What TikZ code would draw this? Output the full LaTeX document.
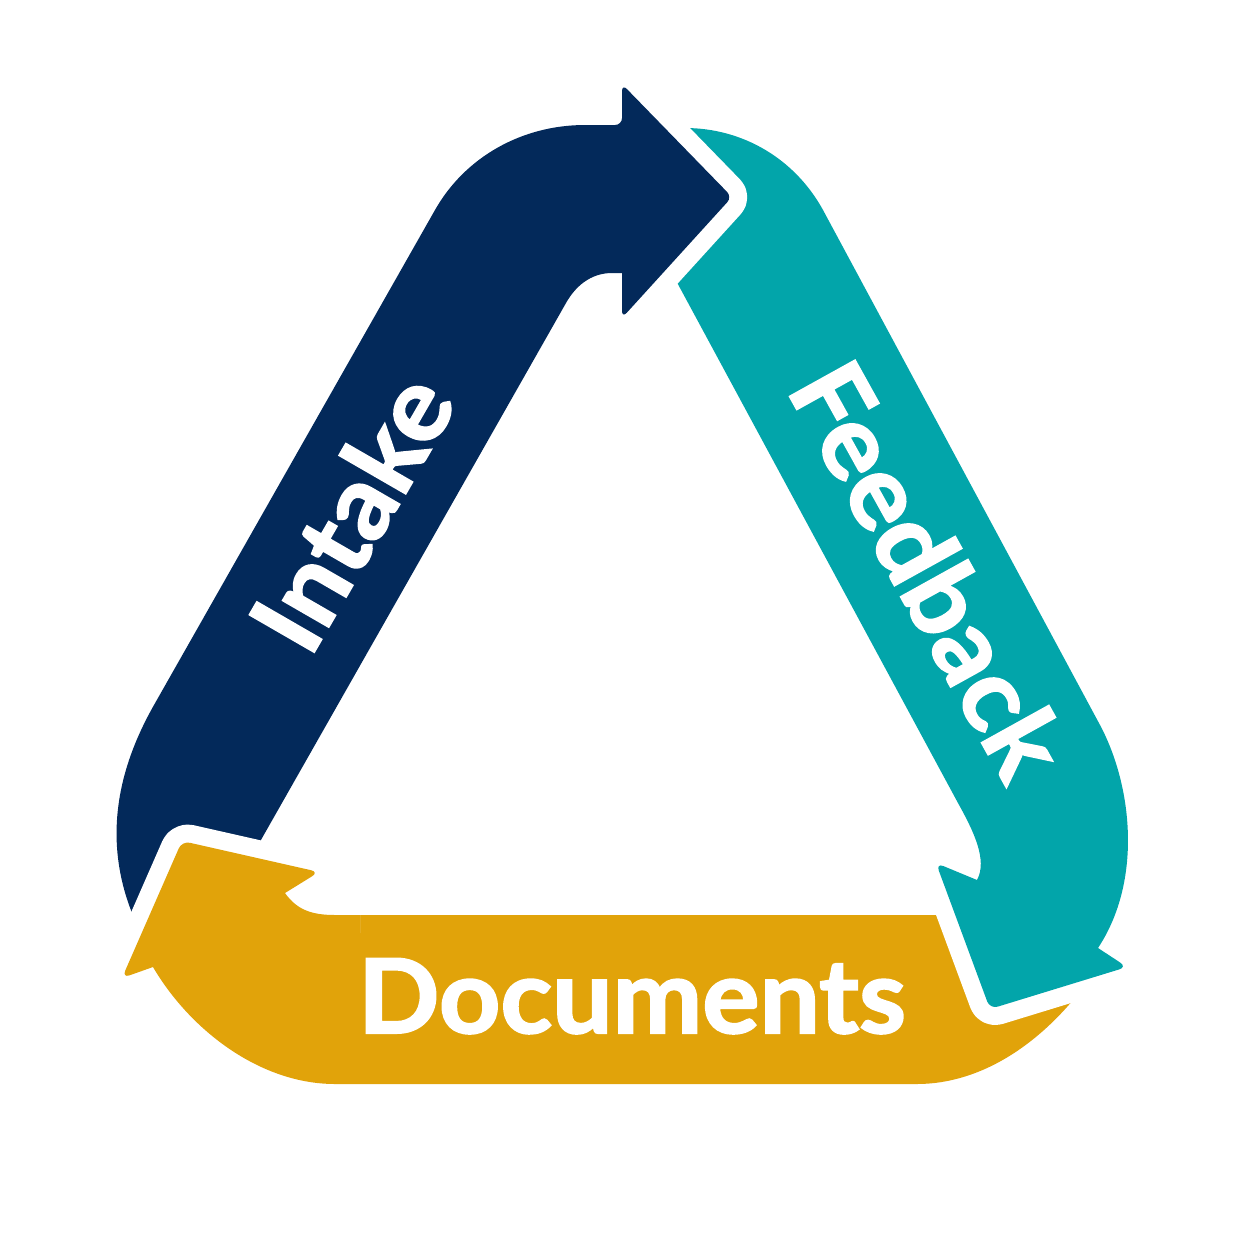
\documentclass[tikz,border=0pt]{standalone}
\usepackage{fontspec}
\newfontfamily\lblfont{Lato}[FakeStretch=1.04, BoldFeatures={FakeBold=2}]
\definecolor{navyc}{HTML}{03295A}
\definecolor{tealc}{HTML}{02A5AA}
\definecolor{goldc}{HTML}{E1A30A}
\tikzset{
  band/.style={preaction={draw=white, line width=36pt, line join=round}},
  lbl/.style={text=white, inner sep=0pt, font=\lblfont\bfseries\fontsize{103}{103}\selectfont}
}
\begin{document}
\begin{tikzpicture}[x=1pt,y=-1pt]
\useasboundingbox (0,0) rectangle (1254,1254);
\fill[white] (0,0) rectangle (1254,1254);
% gold (Documents)
\path[fill=goldc] (335,915) -- (1010,915) -- (1085,985) .. controls (1040,1045) and (980,1084) .. (917,1084) -- (335,1084) .. controls (260,1084) and (190,1030) .. (153,967) [rounded corners=8pt] -- (122,978) -- (182,841) -- (319,872) [sharp corners] -- (285,893) .. controls (297,910) and (312,915) .. (335,915) -- cycle;
% teal (Feedback)
\path[band, fill=tealc] (648,200) -- (668,128) -- (685,128) .. controls (743,128) and (795,159) .. (823,210) -- (1100,725) .. controls (1132,785) and (1143,880) .. (1098,948) [rounded corners=8pt] -- (1127,967) -- (990,1009) -- (936,863) [sharp corners] -- (977,880) .. controls (988,860) and (973,830) .. (958,803) -- (673,275) -- cycle;
% navy (Intake)
\path[band, fill=navyc] (249,861) -- (566,303) .. controls (575,287) and (590,273) .. (612,273) -- (622,273) [rounded corners=7pt] -- (622,318) -- (732,197) -- (622,84) -- (622,125) [sharp corners] -- (585,125) .. controls (522,125) and (465,157) .. (435,210) -- (154,705) .. controls (120,765) and (96,845) .. (142,935) -- (190,860) -- cycle;
% gold head again, over the navy tail
\begin{scope}
\clip (90,780) rectangle (360,1000);
\path[band, fill=goldc] (335,915) -- (1010,915) -- (1085,985) .. controls (1040,1045) and (980,1084) .. (917,1084) -- (335,1084) .. controls (260,1084) and (190,1030) .. (153,967) [rounded corners=8pt] -- (122,978) -- (182,841) -- (319,872) [sharp corners] -- (285,893) .. controls (297,910) and (312,915) .. (335,915) -- cycle;
\end{scope}
% labels
\node[lbl, rotate=60, anchor=base] (intake) at (384,531) {Intake};
\node[lbl, rotate=-61, anchor=base] (feedback) at (896,588) {Feedback};
\node[lbl, anchor=base] (docs) at (632,1033) {Documents};
\end{tikzpicture}
\end{document}
